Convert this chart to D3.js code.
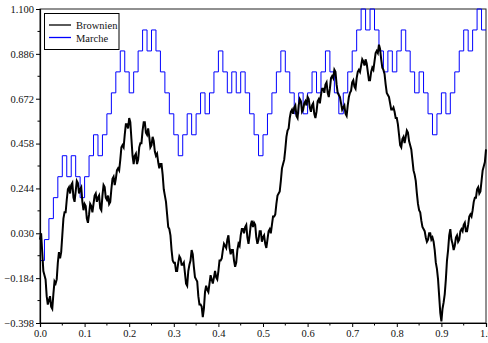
<!DOCTYPE html>
<html>
<head>
<meta charset="utf-8">
<script src="https://cdn.jsdelivr.net/npm/d3@7"></script>
<style>
  body { margin: 0; background: #fff; }
  svg { display: block; font-family: 'Liberation Serif', 'DejaVu Serif', serif; }
  .tick-label { font-size: 10.5px; fill: #111; }
  .legend-label { font-size: 10.5px; fill: #111; }
</style>
</head>
<body>
<svg id="chart" width="488" height="343"></svg>
<script>
'use strict';

// ========== data

// brownian path, sampled every 0.0025
const brown_t_step = 0.0025;
const brownien = [
  0.00, 0.03, -0.06, -0.15, -0.17, -0.19, -0.27, -0.31, -0.29, -0.27,
  -0.32, -0.33, -0.26, -0.20, -0.21, -0.19, -0.11, -0.06, -0.09, -0.06,
  0.02, 0.10, 0.13, 0.13, 0.19, 0.24, 0.25, 0.22, 0.26, 0.27,
  0.20, 0.18, 0.23, 0.28, 0.27, 0.22, 0.24, 0.25, 0.18, 0.14,
  0.17, 0.16, 0.10, 0.08, 0.12, 0.17, 0.16, 0.13, 0.17, 0.21,
  0.22, 0.18, 0.20, 0.21, 0.15, 0.14, 0.21, 0.26, 0.25, 0.20,
  0.19, 0.21, 0.17, 0.18, 0.24, 0.29, 0.30, 0.26, 0.29, 0.33,
  0.34, 0.33, 0.38, 0.44, 0.45, 0.44, 0.50, 0.55, 0.55, 0.53,
  0.58, 0.56, 0.48, 0.40, 0.36, 0.40, 0.41, 0.36, 0.38, 0.44,
  0.46, 0.46, 0.52, 0.56, 0.56, 0.51, 0.50, 0.53, 0.49, 0.44,
  0.45, 0.49, 0.47, 0.42, 0.40, 0.41, 0.37, 0.34, 0.36, 0.36,
  0.31, 0.24, 0.21, 0.18, 0.12, 0.06, 0.05, 0.02, -0.05, -0.10,
  -0.11, -0.11, -0.15, -0.15, -0.11, -0.08, -0.09, -0.12, -0.12, -0.11,
  -0.16, -0.21, -0.22, -0.15, -0.12, -0.10, -0.05, -0.07, -0.13, -0.18,
  -0.19, -0.20, -0.27, -0.31, -0.31, -0.32, -0.37, -0.33, -0.25, -0.22,
  -0.24, -0.25, -0.21, -0.17, -0.19, -0.21, -0.18, -0.15, -0.18, -0.19,
  -0.15, -0.10, -0.10, -0.09, -0.05, -0.02, -0.03, -0.04, 0.00, 0.02,
  -0.04, -0.07, -0.05, -0.05, -0.10, -0.13, -0.11, -0.05, -0.02, -0.03,
  0.02, 0.05, 0.05, 0.03, 0.06, 0.07, 0.01, -0.02, 0.02, 0.07,
  0.09, 0.06, 0.08, 0.07, 0.01, -0.02, 0.00, 0.04, 0.04, -0.01,
  0.01, 0.02, -0.02, -0.04, 0.00, 0.04, 0.05, 0.03, 0.07, 0.11,
  0.11, 0.12, 0.17, 0.21, 0.22, 0.23, 0.28, 0.34, 0.36, 0.38,
  0.43, 0.49, 0.52, 0.53, 0.58, 0.61, 0.62, 0.60, 0.63, 0.64,
  0.59, 0.58, 0.64, 0.67, 0.66, 0.61, 0.62, 0.65, 0.66, 0.64,
  0.68, 0.67, 0.63, 0.61, 0.64, 0.65, 0.60, 0.58, 0.61, 0.66,
  0.67, 0.65, 0.69, 0.72, 0.72, 0.70, 0.74, 0.75, 0.70, 0.68,
  0.72, 0.77, 0.78, 0.77, 0.81, 0.80, 0.74, 0.70, 0.69, 0.68,
  0.65, 0.62, 0.63, 0.64, 0.60, 0.59, 0.64, 0.68, 0.70, 0.71,
  0.75, 0.76, 0.73, 0.72, 0.77, 0.80, 0.81, 0.80, 0.83, 0.86,
  0.85, 0.83, 0.86, 0.84, 0.80, 0.76, 0.76, 0.80, 0.82, 0.81,
  0.85, 0.89, 0.90, 0.89, 0.93, 0.91, 0.86, 0.82, 0.81, 0.79,
  0.74, 0.70, 0.69, 0.68, 0.65, 0.62, 0.62, 0.63, 0.61, 0.58,
  0.58, 0.55, 0.50, 0.45, 0.44, 0.48, 0.49, 0.46, 0.49, 0.52,
  0.51, 0.47, 0.45, 0.43, 0.38, 0.33, 0.31, 0.28, 0.22, 0.17,
  0.14, 0.13, 0.09, 0.06, 0.05, 0.04, 0.01, -0.01, 0.00, 0.03,
  0.03, 0.00, 0.01, -0.01, -0.05, -0.11, -0.14, -0.19, -0.27, -0.35,
  -0.39, -0.33, -0.30, -0.26, -0.19, -0.10, -0.05, 0.02, 0.05, 0.00,
  -0.02, -0.05, -0.03, 0.01, 0.02, -0.01, 0.00, 0.04, 0.05, 0.04,
  0.07, 0.08, 0.04, 0.04, 0.07, 0.11, 0.12, 0.11, 0.14, 0.18,
  0.20, 0.20, 0.24, 0.25, 0.22, 0.23, 0.28, 0.33, 0.35, 0.37,
  0.43
];

// random walk, one step every 0.01 (value held until next step)
const walk_t_step = 0.01;
const marche = [
  -0.1, 0.0, 0.1, 0.2, 0.3, 0.4, 0.3, 0.4, 0.3, 0.2,
  0.3, 0.4, 0.5, 0.4, 0.5, 0.6, 0.7, 0.8, 0.9, 0.8,
  0.7, 0.8, 0.9, 1.0, 0.9, 1.0, 0.9, 0.8, 0.7, 0.6,
  0.5, 0.4, 0.5, 0.6, 0.5, 0.6, 0.7, 0.6, 0.7, 0.8,
  0.9, 0.8, 0.7, 0.8, 0.7, 0.8, 0.7, 0.6, 0.5, 0.4,
  0.5, 0.6, 0.7, 0.8, 0.9, 0.8, 0.7, 0.6, 0.7, 0.6,
  0.7, 0.8, 0.7, 0.8, 0.9, 0.8, 0.7, 0.6, 0.7, 0.8,
  0.9, 1.0, 1.1, 1.0, 1.1, 1.0, 0.9, 0.8, 0.9, 0.8,
  0.9, 1.0, 0.9, 0.8, 0.7, 0.8, 0.7, 0.6, 0.5, 0.6,
  0.7, 0.6, 0.7, 0.8, 0.9, 1.0, 0.9, 1.0, 1.1, 1.0
];

const x_ticks = [0.0, 0.1, 0.2, 0.3, 0.4, 0.5, 0.6, 0.7, 0.8, 0.9, 1.0];
const y_ticks = [-0.398, -0.184, 0.030, 0.244, 0.458, 0.672, 0.886, 1.100];

const series_names = ['Brownien', 'Marche'];
const series_colors = ['#000000', '#0000ff'];

// ========== layout

const margin = {top: 9, right: 2, bottom: 20, left: 40};
const width = 488, height = 343;

const svg = d3.select('#chart');

const x = d3.scaleLinear()
  .domain([0, 1])
  .range([margin.left, width - margin.right]);
const y = d3.scaleLinear()
  .domain([y_ticks[0], y_ticks[y_ticks.length - 1]])
  .range([height - margin.bottom, margin.top]);

const fmt_minus = d => d3.format('.3f')(d).replace('-', '\u2212');

// minor ticks half way between major ones
const x_minor = d3.range(x_ticks.length - 1).map(i => (x_ticks[i] + x_ticks[i + 1]) / 2);
const y_minor = d3.range(y_ticks.length - 1).map(i => (y_ticks[i] + y_ticks[i + 1]) / 2);

// ========== frame

svg.append('rect')
  .attr('x', x(0))
  .attr('y', y(y_ticks[y_ticks.length - 1]))
  .attr('width', x(1) - x(0))
  .attr('height', y(y_ticks[0]) - y(y_ticks[y_ticks.length - 1]))
  .attr('fill', 'none')
  .attr('stroke', '#222')
  .attr('stroke-width', 1);

// ========== series

const walk_pts = marche.map((v, i) => [i * walk_t_step, v]);
walk_pts.push([1, marche[marche.length - 1]]);

const walk_line = d3.line()
  .x(d => x(d[0]))
  .y(d => y(d[1]))
  .curve(d3.curveStepAfter);

svg.append('path')
  .datum(walk_pts)
  .attr('fill', 'none')
  .attr('stroke', series_colors[1])
  .attr('stroke-width', 1)
  .attr('d', walk_line);

const brown_line = d3.line()
  .x((d, i) => x(i * brown_t_step))
  .y(d => y(d));

svg.append('path')
  .datum(brownien)
  .attr('fill', 'none')
  .attr('stroke', series_colors[0])
  .attr('stroke-width', 2)
  .attr('stroke-linejoin', 'miter')
  .attr('d', brown_line);

// ========== axes

const x_axis = d3.axisBottom(x)
  .tickValues(x_ticks)
  .tickFormat(d3.format('.1f'))
  .tickSize(4)
  .tickPadding(3);
const gx = svg.append('g')
  .attr('transform', `translate(0,${y(y_ticks[0])})`)
  .call(x_axis);
gx.append('g').selectAll('line')
  .data(x_minor)
  .enter().append('line')
  .attr('x1', d => x(d)).attr('x2', d => x(d))
  .attr('y1', 0).attr('y2', 2.5)
  .attr('stroke', '#000');

const y_axis = d3.axisLeft(y)
  .tickValues(y_ticks)
  .tickFormat(fmt_minus)
  .tickSize(4)
  .tickPadding(2);
const gy = svg.append('g')
  .attr('transform', `translate(${x(0)},0)`)
  .call(y_axis);
gy.append('g').selectAll('line')
  .data(y_minor)
  .enter().append('line')
  .attr('x1', 0).attr('x2', -2.5)
  .attr('y1', d => y(d)).attr('y2', d => y(d))
  .attr('stroke', '#000');

svg.selectAll('.domain').attr('stroke', '#000').attr('stroke-width', 1.2);
svg.selectAll('.tick text').attr('class', 'tick-label');
gy.attr('font-size', null).attr('font-family', null);
gx.attr('font-size', null).attr('font-family', null);

// ========== legend

const legend = svg.append('g').attr('transform', 'translate(44.5,13.5)');
legend.append('rect')
  .attr('width', 74.5)
  .attr('height', 36)
  .attr('fill', '#fff')
  .attr('stroke', '#000')
  .attr('stroke-width', 1);

series_names.forEach(function(name, i) {
  const row = 11.5 + i * 12.5;
  legend.append('line')
    .attr('x1', 4.5).attr('x2', 26.5)
    .attr('y1', row).attr('y2', row)
    .style('stroke', series_colors[i])
    .style('stroke-width', 1.3);
  legend.append('text')
    .attr('class', 'legend-label')
    .attr('x', 31.5)
    .attr('y', row + 4)
    .text(name);
});
</script>
</body>
</html>
